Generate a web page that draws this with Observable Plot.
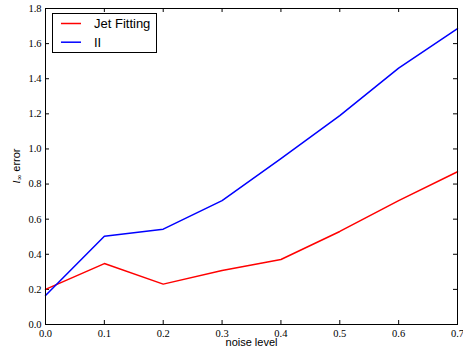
<!DOCTYPE html>
<html>
<head>
<meta charset="utf-8">
<script src="https://cdn.jsdelivr.net/npm/d3@7"></script>
<script src="https://cdn.jsdelivr.net/npm/@observablehq/plot@0.6"></script>
<style>
  html, body { margin: 0; padding: 0; background: #fff; }
  #chart { position: relative; width: 463px; height: 353px; }
</style>
</head>
<body>
<div id="chart"></div>
<script>
const noiseLevels = [0.0, 0.1, 0.2, 0.3, 0.4, 0.5, 0.6, 0.7];
const jetFitting = [0.20, 0.347, 0.230, 0.308, 0.370, 0.530, 0.706, 0.870];
const iiValues   = [0.165, 0.503, 0.543, 0.706, 0.945, 1.19, 1.46, 1.685];
const seriesNames = ["Jet Fitting", "II"];
const seriesColors = ["#ff0000", "#0000ff"];
const xTicks = [0.0, 0.1, 0.2, 0.3, 0.4, 0.5, 0.6, 0.7];
const yTicks = [0.0, 0.2, 0.4, 0.6, 0.8, 1.0, 1.2, 1.4, 1.6, 1.8];
const xLabel = "noise level";

const rows = [];
noiseLevels.forEach((x, i) => {
  rows.push({series: seriesNames[0], x, y: jetFitting[i]});
  rows.push({series: seriesNames[1], x, y: iiValues[i]});
});

const W = 463, H = 353;
const mL = 45, mR = 6, mT = 8, mB = 29;
const plotW = W - mL - mR, plotH = H - mT - mB;
const tickLen = 4;
const serif = "'Liberation Serif', 'DejaVu Serif', serif";
const sans = "'Liberation Sans', Arial, sans-serif";

const chart = Plot.plot({
  width: W,
  height: H,
  marginLeft: mL,
  marginRight: mR,
  marginTop: mT,
  marginBottom: mB,
  style: {background: "white", fontFamily: serif, fontSize: "10px", color: "black"},
  x: {domain: [0, 0.7]},
  y: {domain: [0, 1.8]},
  color: {domain: seriesNames, range: seriesColors},
  marks: [
    Plot.axisX(xTicks, {tickSize: 0, tickPadding: 5, tickFormat: d3.format(".1f"), fontFamily: serif, fontSize: 10.5, label: null}),
    Plot.axisY(yTicks, {tickSize: 0, tickPadding: 4, tickFormat: d3.format(".1f"), fontFamily: serif, fontSize: 10.5, label: null}),
    Plot.tickX(xTicks, {x: d => d, stroke: "black", insetTop: plotH - tickLen}),
    Plot.tickX(xTicks, {x: d => d, stroke: "black", insetBottom: plotH - tickLen}),
    Plot.tickY(yTicks, {y: d => d, stroke: "black", insetRight: plotW - tickLen}),
    Plot.tickY(yTicks, {y: d => d, stroke: "black", insetLeft: plotW - tickLen}),
    Plot.line(rows, {x: "x", y: "y", z: "series", stroke: "series", strokeWidth: 1.5}),
    Plot.frame({stroke: "black", strokeWidth: 1}),
    Plot.text([xLabel], {frameAnchor: "bottom", dy: 21, text: d => d, fontFamily: sans, fontSize: 11, fill: "black"})
  ]
});

document.getElementById("chart").appendChild(chart);

const svg = d3.select(chart);

// y-axis label: l_inf error
const yl = svg.append("text")
  .attr("transform", `translate(20, ${mT + plotH / 2}) rotate(-90)`)
  .attr("text-anchor", "middle")
  .attr("fill", "black");
yl.append("tspan").attr("font-family", serif).attr("font-style", "italic").attr("font-size", 11).text("l");
yl.append("tspan").attr("font-family", serif).attr("font-size", 8).attr("dy", 2).text("∞");
yl.append("tspan").attr("font-family", sans).attr("font-size", 11).attr("dy", -2).text(" error");

// legend
const lg = svg.append("g").attr("text-anchor", "start");
lg.append("rect").attr("x", 52.5).attr("y", 13.5).attr("width", 104).attr("height", 39)
  .attr("fill", "white").attr("stroke", "black").attr("stroke-width", 1);
seriesNames.forEach((name, i) => {
  const yy = 23.5 + i * 18.7;
  lg.append("line").attr("x1", 61).attr("x2", 81).attr("y1", yy).attr("y2", yy)
    .attr("stroke", seriesColors[i]).attr("stroke-width", 1.5);
  lg.append("text").attr("x", 94).attr("y", yy).attr("dy", "0.35em").attr("text-anchor", "start")
    .attr("font-family", sans).attr("font-size", 13).attr("fill", "black").text(name);
});
</script>
</body>
</html>
